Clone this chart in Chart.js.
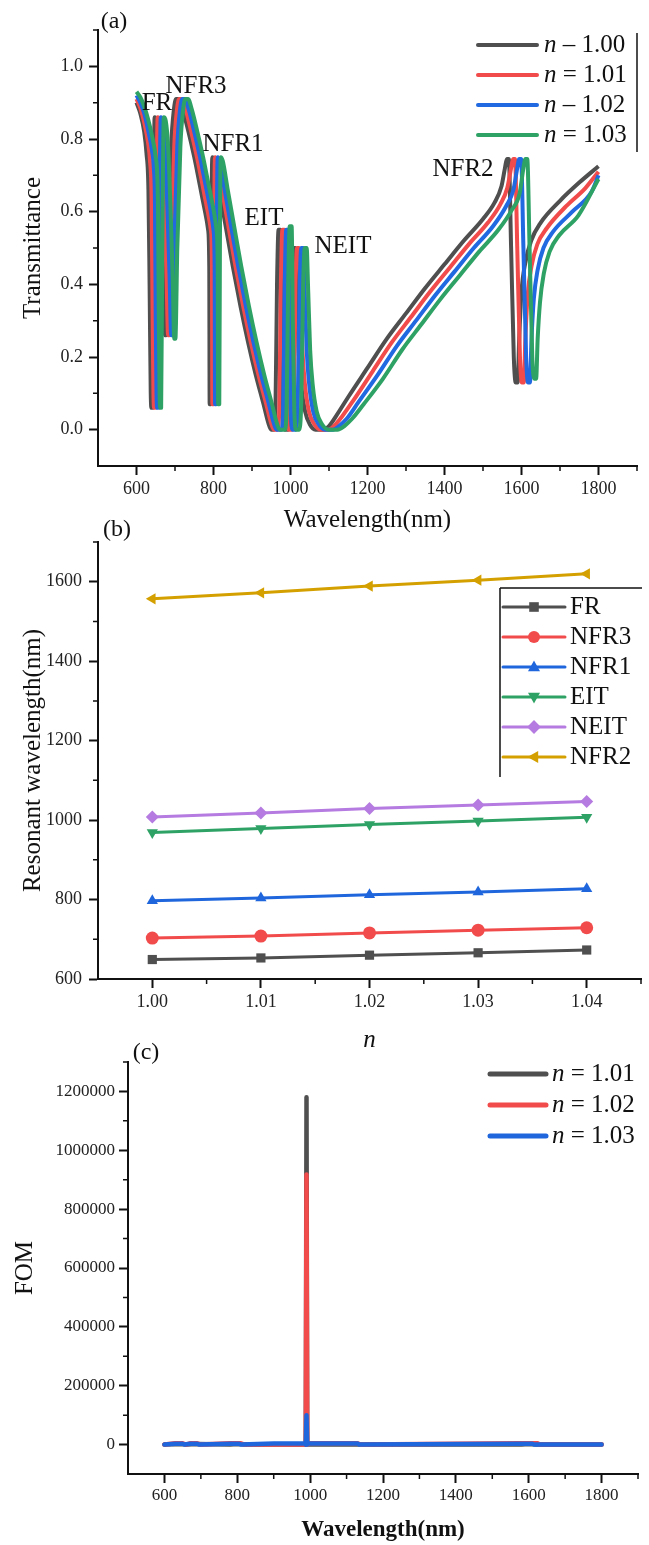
<!DOCTYPE html>
<html><head><meta charset="utf-8">
<script src="https://cdn.jsdelivr.net/npm/chart.js@4.4.1/dist/chart.umd.min.js"></script>
<style>
html,body{margin:0;padding:0;background:#fff;width:649px;height:1545px;overflow:hidden;position:relative}
canvas{position:absolute;left:0;display:block}
</style></head>
<body>
<canvas id="ca" width="649" height="540" style="top:0px;width:649px;height:540px"></canvas>
<canvas id="cb" width="649" height="560" style="top:500px;width:649px;height:560px"></canvas>
<canvas id="cc" width="649" height="515" style="top:1030px;width:649px;height:515px"></canvas>
<script>
const FONT = '"Liberation Serif","Times New Roman",serif';

// ---------- Panel (a): transmittance spectra ----------
const legendA = ['– 1.00', '= 1.01', '– 1.02', '= 1.03'];
const colorsA = ['#4f4f4f', '#f24b4b', '#2069e0', '#2ea265'];
const xTicksA = [600, 800, 1000, 1200, 1400, 1600, 1800];
const yTicksA = [0, 0.2, 0.4, 0.6, 0.8, 1.0];
const annotA = ['FR', 'NFR3', 'NFR1', 'EIT', 'NEIT', 'NFR2'];

const T100 = [[600,.90],[610,.87],[620,.82],[626,.76],[631,.66],[634,.40],[637,.10],[639,.06],[641,.06],[644,.50],[647,.86],[652,.85],[658,.78],[664,.62],[670,.42],[674,.26],[677,.26],[682,.50],[690,.78],[697,.88],[703,.91],[710,.91],[720,.88],[735,.82],[750,.75],[765,.67],[778,.60],[786,.55],[789,.45],[790,.07],[793,.07],[795,.60],[797,.75],[802,.74],[815,.66],[830,.57],[850,.45],[870,.34],[890,.24],[910,.15],[930,.07],[942,.02],[950,.00],[956,.00],[961,.06],[965,.40],[969,.55],[974,.55],[977,.30],[981,.05],[986,.00],[994,.00],[999,.08],[1003,.40],[1007,.50],[1012,.50],[1016,.38],[1021,.22],[1028,.12],[1038,.05],[1050,.015],[1065,.00],[1085,.00],[1100,.01],[1120,.04],[1150,.09],[1200,.17],[1250,.25],[1300,.32],[1350,.39],[1400,.455],[1450,.52],[1500,.58],[1530,.625],[1548,.67],[1557,.72],[1562,.745],[1567,.745],[1573,.50],[1580,.20],[1585,.13],[1590,.13],[1594,.25],[1600,.38],[1610,.46],[1625,.52],[1650,.57],[1700,.63],[1750,.68],[1800,.725]];
const T101 = [[600,.91],[610,.885],[620,.845],[630,.79],[635,.74],[639,.64],[642,.30],[644,.10],[646,.06],[648,.06],[651,.50],[655,.86],[660,.85],[666,.78],[672,.62],[678,.42],[682,.26],[685,.26],[690,.50],[698,.78],[705,.88],[711,.91],[718,.91],[728,.88],[742,.82],[757,.75],[772,.67],[785,.60],[793,.55],[796,.45],[797,.07],[800,.07],[802,.60],[804,.75],[809,.74],[822,.66],[837,.57],[857,.45],[877,.34],[897,.24],[917,.15],[937,.07],[949,.02],[957,.00],[966,.00],[971,.06],[975,.40],[979,.55],[984,.55],[987,.30],[991,.05],[996,.00],[1004,.00],[1009,.08],[1013,.40],[1017,.50],[1022,.50],[1026,.38],[1031,.22],[1038,.12],[1048,.05],[1062,.015],[1078,.00],[1098,.00],[1113,.01],[1133,.035],[1163,.08],[1213,.16],[1263,.24],[1313,.31],[1363,.38],[1413,.445],[1463,.51],[1513,.57],[1545,.62],[1563,.665],[1573,.72],[1578,.745],[1583,.745],[1589,.50],[1596,.20],[1601,.13],[1606,.13],[1610,.25],[1616,.37],[1626,.45],[1641,.51],[1666,.555],[1716,.615],[1766,.665],[1800,.71]];
const T102 = [[600,.92],[610,.90],[620,.87],[630,.825],[640,.77],[645,.72],[648,.62],[650,.30],[652,.10],[654,.06],[656,.06],[659,.50],[663,.86],[668,.85],[674,.78],[680,.62],[686,.42],[690,.26],[693,.26],[698,.50],[706,.78],[713,.88],[719,.91],[726,.91],[736,.88],[750,.82],[765,.75],[780,.67],[793,.60],[800,.55],[803,.45],[804,.07],[807,.07],[809,.60],[811,.75],[816,.74],[829,.66],[844,.57],[864,.45],[884,.34],[904,.24],[924,.15],[944,.07],[956,.02],[964,.00],[976,.00],[981,.06],[985,.40],[989,.55],[994,.55],[997,.30],[1001,.05],[1006,.00],[1014,.00],[1019,.08],[1024,.40],[1028,.50],[1033,.50],[1037,.38],[1042,.22],[1049,.12],[1059,.05],[1073,.015],[1090,.00],[1110,.00],[1126,.01],[1146,.03],[1176,.075],[1226,.15],[1276,.23],[1326,.30],[1376,.37],[1426,.435],[1476,.50],[1526,.56],[1560,.615],[1579,.66],[1589,.72],[1594,.745],[1599,.745],[1605,.50],[1612,.20],[1617,.13],[1622,.13],[1626,.25],[1632,.36],[1642,.44],[1657,.50],[1682,.545],[1732,.60],[1782,.655],[1800,.70]];
const T103 = [[600,.93],[610,.915],[620,.89],[630,.855],[640,.81],[650,.75],[654,.70],[656,.60],[658,.30],[660,.10],[662,.06],[664,.06],[667,.50],[671,.86],[676,.85],[682,.78],[688,.62],[694,.42],[698,.25],[701,.25],[706,.50],[714,.78],[721,.88],[727,.91],[734,.91],[744,.88],[758,.82],[773,.75],[788,.67],[801,.60],[808,.55],[811,.45],[812,.07],[815,.07],[817,.60],[819,.75],[824,.74],[837,.66],[852,.57],[872,.45],[892,.34],[912,.24],[932,.15],[952,.07],[964,.02],[972,.00],[985,.00],[990,.06],[994,.40],[998,.56],[1003,.56],[1006,.30],[1010,.05],[1015,.00],[1023,.00],[1028,.08],[1033,.40],[1037,.50],[1042,.50],[1046,.38],[1051,.22],[1058,.12],[1068,.05],[1082,.015],[1100,.00],[1122,.00],[1140,.01],[1160,.03],[1190,.07],[1240,.14],[1290,.22],[1340,.29],[1390,.36],[1440,.425],[1490,.49],[1540,.55],[1575,.605],[1595,.65],[1605,.72],[1610,.745],[1615,.745],[1621,.50],[1628,.20],[1633,.14],[1638,.14],[1642,.25],[1648,.35],[1658,.43],[1673,.49],[1698,.535],[1748,.59],[1800,.69]];

// ---------- Panel (b): resonant wavelength vs n ----------
const nValues = [1.00, 1.01, 1.02, 1.03, 1.04];
const FR   = [649, 653, 660, 666, 673];
const NFR3 = [703, 708, 716, 723, 729];
const NFR1 = [797, 804, 812, 819, 827];
const EIT  = [969, 979, 989, 998, 1007];
const NEIT = [1008, 1018, 1029, 1038, 1047];
const NFR2 = [1557, 1572, 1589, 1604, 1620];
const modeNames = ['FR', 'NFR3', 'NFR1', 'EIT', 'NEIT', 'NFR2'];
const colorsB = ['#4f4f4f', '#f24b4b', '#1f66dd', '#2ea265', '#b57be0', '#d4a000'];
const yTicksB = [600, 800, 1000, 1200, 1400, 1600];

// ---------- Panel (c): FOM ----------
const FOM101 = [[600,0],[640,2000],[660,0],[690,2000],[780,0],[800,2000],[820,0],[980,0],[988,0],[990,1180000],[992,0],[1000,0],[1580,0],[1600,2000],[1620,0],[1800,0]];
const FOM102 = [[600,0],[630,4500],[650,4500],[660,0],[670,4500],[690,4500],[700,0],[780,4500],[810,4500],[820,0],[980,0],[988,0],[990,918000],[992,0],[1000,4500],[1130,4500],[1140,0],[1575,4500],[1625,4500],[1630,0],[1800,0]];
const FOM103 = [[600,0],[630,3000],[650,3000],[655,0],[670,3000],[690,3000],[695,0],[780,3000],[805,3000],[810,0],[900,4000],[985,4000],[988,0],[990,100000],[992,0],[995,4000],[1130,4000],[1135,0],[1570,3000],[1610,3000],[1615,0],[1800,0]];
const legendC = ['= 1.01', '= 1.02', '= 1.03'];
const colorsC = ['#4f4f4f', '#f24b4b', '#1f66dd'];
const xTicksC = [600, 800, 1000, 1200, 1400, 1600, 1800];
const yTicksC = [0, 200000, 400000, 600000, 800000, 1000000, 1200000];

// ---------- helpers ----------
const toXY = arr => arr.map(p => ({x: p[0], y: p[1]}));

function xAxis(o) {
  return {
    type: 'linear', min: o.min, max: o.max,
    afterBuildTicks: s => { s.ticks = o.ticks.map(v => ({value: v})); },
    afterFit: s => { s.height = o.height; s.paddingLeft = 0; s.paddingRight = 0; },
    ticks: {font: {family: FONT, size: o.fs}, color: '#222', padding: o.tp, maxRotation: 0, autoSkip: false, callback: o.fmt},
    grid: {display: true, drawOnChartArea: false, drawTicks: true, tickLength: 9, tickWidth: 2, tickColor: '#111'},
    border: {display: true, color: '#111', width: 2},
    title: {display: true, text: o.title, font: o.tfont, color: '#111', padding: o.tpad}
  };
}
function yAxis(o) {
  return {
    type: 'linear', min: o.min, max: o.max,
    afterBuildTicks: s => { s.ticks = o.ticks.map(v => ({value: v})); },
    afterFit: s => { s.width = o.width; s.paddingTop = 0; s.paddingBottom = 0; },
    ticks: {font: {family: FONT, size: o.fs}, color: '#222', padding: o.tp, autoSkip: false, callback: o.fmt},
    grid: {display: true, drawOnChartArea: false, drawTicks: true, tickLength: 9, tickWidth: 2, tickColor: '#111'},
    border: {display: true, color: '#111', width: 2},
    title: {display: true, text: o.title, font: o.tfont, color: '#111', padding: o.tpad}
  };
}
function minorTicks(chart, xs, ys, len) {
  const ctx = chart.ctx, xS = chart.scales.x, yS = chart.scales.y, a = chart.chartArea;
  ctx.save(); ctx.strokeStyle = '#111'; ctx.lineWidth = 1.5; ctx.beginPath();
  xs.forEach(v => { const p = xS.getPixelForValue(v); ctx.moveTo(p, a.bottom); ctx.lineTo(p, a.bottom + len); });
  ys.forEach(v => { const p = yS.getPixelForValue(v); ctx.moveTo(a.left - len, p); ctx.lineTo(a.left, p); });
  ctx.stroke(); ctx.restore();
}
function txt(ctx, s, x, y, size, align, italic, weight) {
  ctx.save();
  ctx.font = (italic ? 'italic ' : '') + (weight || '') + ' ' + size + 'px ' + FONT;
  ctx.fillStyle = '#111'; ctx.textAlign = align || 'center'; ctx.textBaseline = 'middle';
  ctx.fillText(s, x, y); ctx.restore();
}
function nLabel(ctx, rest, x, y, size) {
  ctx.save();
  ctx.fillStyle = '#111'; ctx.textAlign = 'left'; ctx.textBaseline = 'middle';
  ctx.font = 'italic ' + size + 'px ' + FONT;
  ctx.fillText('n', x, y);
  const w = ctx.measureText('n ').width;
  ctx.font = size + 'px ' + FONT;
  ctx.fillText(rest, x + w, y);
  ctx.restore();
}
function seg(ctx, x1, x2, y, color, w) {
  ctx.save(); ctx.strokeStyle = color; ctx.lineWidth = w; ctx.lineCap = 'round';
  ctx.beginPath(); ctx.moveTo(x1, y); ctx.lineTo(x2, y); ctx.stroke(); ctx.restore();
}
function marker(ctx, style, x, y, r, color) {
  ctx.save(); ctx.fillStyle = color; ctx.beginPath();
  if (style === 'rect') { ctx.rect(x - r * 0.8, y - r * 0.8, r * 1.6, r * 1.6); }
  else if (style === 'circle') { ctx.arc(x, y, r, 0, Math.PI * 2); }
  else if (style === 'up') { ctx.moveTo(x, y - r * 1.1); ctx.lineTo(x + r, y + r * 0.7); ctx.lineTo(x - r, y + r * 0.7); }
  else if (style === 'down') { ctx.moveTo(x, y + r * 1.1); ctx.lineTo(x + r, y - r * 0.7); ctx.lineTo(x - r, y - r * 0.7); }
  else if (style === 'diamond') { ctx.moveTo(x, y - r * 1.15); ctx.lineTo(x + r * 1.15, y); ctx.lineTo(x, y + r * 1.15); ctx.lineTo(x - r * 1.15, y); }
  else if (style === 'left') { ctx.moveTo(x - r * 1.1, y); ctx.lineTo(x + r * 0.7, y - r); ctx.lineTo(x + r * 0.7, y + r); }
  ctx.closePath(); ctx.fill(); ctx.restore();
}

// ---------- Chart (a) ----------
new Chart(document.getElementById('ca'), {
  type: 'line',
  data: {datasets: [T100, T101, T102, T103].map((d, i) => ({
    label: 'n ' + legendA[i], data: toXY(d), borderColor: colorsA[i], backgroundColor: colorsA[i],
    borderWidth: 4, borderJoinStyle: 'round', pointRadius: 0, cubicInterpolationMode: 'monotone', order: 4 - i, fill: false
  }))},
  options: {
    responsive: false, animation: false, devicePixelRatio: 1,
    layout: {padding: {left: 0, right: 12, top: 30, bottom: 0}},
    plugins: {legend: {display: false}, tooltip: {enabled: false}},
    scales: {
      x: xAxis({min: 500, max: 1900, ticks: xTicksA, height: 74, fs: 18, tp: 3, fmt: v => String(v),
        title: 'Wavelength(nm)', tfont: {family: FONT, size: 25}, tpad: {top: 0, bottom: 5}}),
      y: yAxis({min: -0.1, max: 1.1, ticks: yTicksA, width: 98, fs: 18, tp: 6, fmt: v => v.toFixed(1),
        title: 'Transmittance', tfont: {family: FONT, size: 25}, tpad: {top: 18, bottom: 0}})
    }
  },
  plugins: [{id: 'decorA', afterDraw(chart) {
    const ctx = chart.ctx;
    minorTicks(chart, [700, 900, 1100, 1300, 1500, 1700, 1900], [0.1, 0.3, 0.5, 0.7, 0.9, 1.1], 5);
    txt(ctx, '(a)', 114, 22, 24);
    const pos = [[157, 103], [196, 86], [233, 144], [264, 218], [343, 246], [463, 169]];
    annotA.forEach((s, i) => txt(ctx, s, pos[i][0], pos[i][1], 25));
    const rows = [45, 75, 105, 135];
    legendA.forEach((s, i) => { seg(ctx, 478, 537, rows[i], colorsA[i], 4); nLabel(ctx, s, 544, rows[i], 25); });
    ctx.save(); ctx.strokeStyle = '#111'; ctx.lineWidth = 1.5; ctx.beginPath();
    ctx.moveTo(637, 33); ctx.lineTo(637, 152); ctx.stroke(); ctx.restore();
  }}]
});

// ---------- Chart (b) ----------
const offB = 500;
const seriesB = [FR, NFR3, NFR1, EIT, NEIT, NFR2];
const stylesB = [['rect', 0], ['circle', 0], ['triangle', 0], ['triangle', 180], ['rectRot', 0], ['triangle', -90]];
const legStylesB = ['rect', 'circle', 'up', 'down', 'diamond', 'left'];
new Chart(document.getElementById('cb'), {
  type: 'line',
  data: {datasets: seriesB.map((s, i) => ({
    label: modeNames[i], data: nValues.map((n, k) => ({x: n, y: s[k]})),
    borderColor: colorsB[i], backgroundColor: colorsB[i], borderWidth: 3, tension: 0,
    pointStyle: stylesB[i][0], rotation: stylesB[i][1], pointRadius: 6.5, pointBorderWidth: 0
  }))},
  options: {
    responsive: false, animation: false, devicePixelRatio: 1,
    layout: {padding: {left: 0, right: 8, top: 42, bottom: 0}},
    plugins: {legend: {display: false}, tooltip: {enabled: false}},
    scales: {
      x: xAxis({min: 0.995, max: 1.045, ticks: nValues, height: 81, fs: 18, tp: 3, fmt: v => v.toFixed(2),
        title: 'n', tfont: {family: FONT, size: 25, style: 'italic'}, tpad: {top: 0, bottom: 5}}),
      y: yAxis({min: 600, max: 1700, ticks: yTicksB, width: 98, fs: 18, tp: 7, fmt: v => String(v),
        title: 'Resonant wavelength(nm)', tfont: {family: FONT, size: 25}, tpad: {top: 18, bottom: 0}})
    }
  },
  plugins: [{id: 'decorB', afterDraw(chart) {
    const ctx = chart.ctx;
    minorTicks(chart, [1.005, 1.015, 1.025, 1.035, 1.045], [700, 900, 1100, 1300, 1500, 1700], 5);
    txt(ctx, '(b)', 117, 530 - offB, 24);
    ctx.save(); ctx.strokeStyle = '#111'; ctx.lineWidth = 1.5; ctx.beginPath();
    ctx.moveTo(500, 588 - offB); ctx.lineTo(642, 588 - offB);
    ctx.moveTo(500, 588 - offB); ctx.lineTo(500, 777 - offB); ctx.stroke(); ctx.restore();
    const rows = [607, 637, 667, 697, 727, 757];
    modeNames.forEach((s, i) => {
      const y = rows[i] - offB;
      seg(ctx, 503, 565, y, colorsB[i], 3);
      marker(ctx, legStylesB[i], 534, y, 6, colorsB[i]);
      txt(ctx, s, 570, y, 25, 'left');
    });
  }}]
});

// ---------- Chart (c) ----------
const offC = 1030;
new Chart(document.getElementById('cc'), {
  type: 'line',
  data: {datasets: [FOM101, FOM102, FOM103].map((d, i) => ({
    label: 'n ' + legendC[i], data: toXY(d), borderColor: colorsC[i], backgroundColor: colorsC[i],
    borderWidth: 4.5, borderJoinStyle: 'round', borderCapStyle: 'round', pointRadius: 0, tension: 0, order: 3 - i
  }))},
  options: {
    responsive: false, animation: false, devicePixelRatio: 1,
    layout: {padding: {left: 0, right: 11, top: 32, bottom: 0}},
    plugins: {legend: {display: false}, tooltip: {enabled: false}},
    scales: {
      x: xAxis({min: 500, max: 1900, ticks: xTicksC, height: 71, fs: 17, tp: 2, fmt: v => String(v),
        title: 'Wavelength(nm)', tfont: {family: FONT, size: 23, weight: 'bold'}, tpad: {top: 0, bottom: 1}}),
      y: yAxis({min: -100000, max: 1300000, ticks: yTicksC, width: 128, fs: 17, tp: 4, fmt: v => String(v),
        title: 'FOM', tfont: {family: FONT, size: 25}, tpad: {top: 10, bottom: 0}})
    }
  },
  plugins: [{id: 'decorC', afterDraw(chart) {
    const ctx = chart.ctx;
    minorTicks(chart, [700, 900, 1100, 1300, 1500, 1700, 1900], [100000, 300000, 500000, 700000, 900000, 1100000, 1300000], 5);
    txt(ctx, '(c)', 146, 1053 - offC, 24);
    const rows = [1074, 1105, 1136];
    legendC.forEach((s, i) => { seg(ctx, 490, 546, rows[i] - offC, colorsC[i], 5); nLabel(ctx, s, 552, rows[i] - offC, 25); });
  }}]
});
</script>
</body></html>
